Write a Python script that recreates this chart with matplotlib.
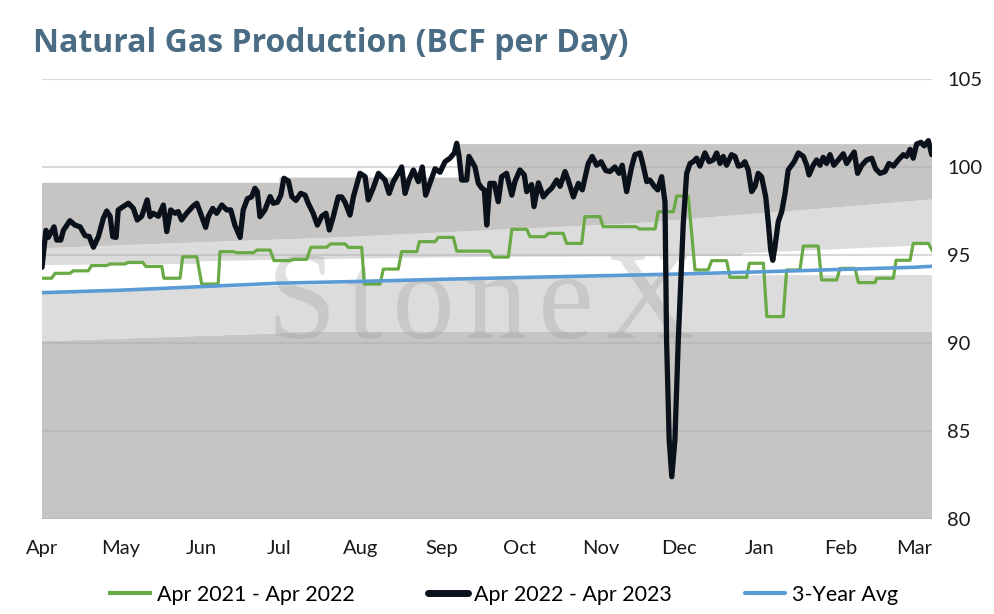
import numpy as np
import matplotlib.pyplot as plt
from matplotlib.lines import Line2D

# -----------------------------
# Data, x = days since Apr 1
# -----------------------------
month_days = [0, 30, 61, 91, 122, 153, 183, 214, 244, 275, 306, 334]
month_labels = ["Apr", "May", "Jun", "Jul", "Aug", "Sep", "Oct", "Nov", "Dec", "Jan", "Feb", "Mar"]

black_days = [
    0, 1.5, 2.4, 4.6, 5.6, 7.2, 8.2, 10.7, 12.6, 14.6,
    16.5, 18.1, 19.7, 21.6, 23.5, 24.8, 26.1, 27.1, 28.4, 29.2,
    31.1, 33.1, 35.0, 36.5, 38.2, 40.3, 41.4, 42.6, 44.6, 46.5,
    47.8, 49.3, 51.0, 52.2, 53.5, 55.4, 57.7, 59.3, 60.5, 62.7,
    63.7, 65.4, 66.9, 68.9, 70.8, 72.3, 73.9, 75.9, 77.1, 78.7,
    80.3, 81.6, 82.5, 83.5, 85.4, 87.4, 88.6, 90.2, 91.5, 92.7,
    94.4, 95.7, 97.3, 99.1, 100.8, 102.0, 103.9, 105.5, 107.2, 108.8,
    110.1, 111.6, 113.5, 114.8, 116.1, 118.0, 119.3, 121.8, 123.8, 125.0,
    126.9, 128.9, 131.4, 133.0, 134.6, 136.5, 137.8, 139.1, 140.6, 142.3,
    144.2, 145.7, 147.0, 148.7, 150.6, 152.5, 154.4, 156.3, 158.0, 158.9,
    159.8, 160.8, 162.7, 163.6, 165.9, 167.2, 168.5, 169.5, 170.4, 171.6,
    173.3, 174.8, 176.1, 178.0, 180.0, 181.2, 183.1, 184.8, 185.7, 187.6,
    188.5, 190.2, 192.1, 193.8, 195.3, 197.2, 198.5, 200.4, 201.6, 203.6,
    205.5, 207.0, 209.3, 210.8, 212.5, 214.2, 216.0, 217.6, 219.5, 221.1,
    222.3, 224.0, 225.9, 227.2, 229.1, 230.4, 231.7, 232.9, 234.6, 235.9,
    237.4, 238.7, 239.3, 240.3, 241.3, 242.5, 243.8, 245.7, 247.0, 248.3,
    249.5, 250.8, 252.1, 254.0, 255.6, 257.2, 258.5, 259.8, 261.0, 262.3,
    264.2, 265.5, 266.8, 268.1, 269.3, 270.6, 271.9, 273.2, 274.4, 275.7,
    277.3, 278.3, 279.2, 280.0, 280.8, 282.1, 283.4, 284.7, 285.9, 287.2,
    288.2, 289.8, 291.7, 293.0, 293.9, 295.5, 296.8, 298.1, 299.3, 300.6,
    301.9, 303.4, 305.1, 307.0, 308.3, 309.6, 311.2, 312.5, 314.1, 316.0,
    317.9, 319.4, 321.1, 323.0, 324.5, 326.2, 328.1, 330.0, 331.3, 332.6,
    333.8, 335.1, 336.8, 338.0, 339.6, 340.9,
]
black_vals = [
    94.3, 96.4, 96.0, 96.6, 95.85, 95.85, 96.4, 96.95, 96.7, 96.6,
    96.1, 96.05, 95.44, 96.04, 97.08, 97.5, 97.2, 96.04, 96.0, 97.56,
    97.75, 97.94, 97.65, 96.99, 97.2, 98.13, 97.18, 97.37, 97.2, 97.84,
    96.33, 97.56, 97.37, 97.47, 96.99, 97.37, 97.75, 97.94, 97.47, 96.57,
    97.18, 97.65, 97.37, 97.84, 97.56, 97.56, 96.7, 96.0, 97.56, 98.2,
    98.3, 98.79, 98.6, 97.18, 97.56, 98.32, 97.94, 98.0, 98.4, 99.36,
    99.2, 98.32, 98.1, 98.5, 98.4, 97.94, 97.37, 96.7, 97.2, 97.37,
    96.42, 97.18, 98.3, 98.3, 98.0, 97.27, 98.3, 99.64, 99.45, 98.13,
    98.8, 99.64, 99.26, 98.5, 99.17, 99.64, 100.0, 98.5, 99.26, 99.83,
    99.17, 100.0, 98.4, 99.1, 99.9, 99.7, 100.3, 100.5, 100.8, 101.35,
    100.6, 99.26, 99.26, 100.6, 100.0, 99.07, 98.8, 98.7, 96.7, 99.07,
    99.07, 98.03, 99.45, 99.64, 98.4, 99.17, 99.83, 99.55, 98.6, 99.0,
    97.75, 99.1, 98.3, 98.6, 98.8, 99.26, 98.9, 99.74, 99.26, 98.3,
    99.07, 98.7, 100.2, 100.6, 100.1, 100.3, 99.8, 99.74, 100.0, 99.64,
    100.1, 98.6, 100.0, 100.7, 100.8, 100.05, 99.17, 99.26, 98.9, 98.7,
    99.45, 98.0, 90.17, 84.5, 82.4, 84.5, 90.2, 96.8, 99.64, 100.2,
    100.3, 100.5, 100.05, 100.8, 100.3, 100.4, 100.8, 100.2, 100.6, 100.1,
    100.7, 100.6, 100.05, 100.1, 100.3, 99.83, 98.6, 98.9, 99.64, 99.45,
    98.3, 96.8, 95.28, 94.7, 95.45, 96.9, 97.45, 98.5, 99.83, 100.1,
    100.3, 100.8, 100.6, 100.1, 99.55, 100.1, 100.4, 100.1, 100.55, 100.2,
    100.7, 100.1, 100.4, 100.75, 100.2, 100.5, 100.85, 99.64, 100.1, 100.4,
    100.5, 99.9, 99.64, 99.74, 100.2, 100.05, 100.4, 100.7, 100.6, 101.0,
    100.5, 101.3, 101.4, 101.2, 101.5, 100.7,
]

# weekly steps of the prior year: start day, end day, value
green_start = [0, 5, 12, 19, 26, 33, 39.8, 46.7, 53.9, 61.2, 68.2, 74.6, 82.3, 88.9, 96.3, 103,
               110.6, 117.4, 123.5, 130.8, 137.8, 144.6, 151.8, 158.9, 172.9, 180, 187, 194, 201,
               208, 215, 229, 236.1, 243.2, 250.2, 256.6, 263.6, 271, 277.7, 285.3, 291.7, 298.7,
               305.7, 312.8, 319.8, 327.2, 333.8, 341]
green_end = [3.7, 10.7, 17.7, 24.8, 31.8, 38.6, 45.9, 52.9, 59.3, 67.5, 73.3, 81, 87.4, 95, 101.4, 109,
             116.1, 122.5, 129.5, 136.5, 143.6, 150.6, 157.6, 171.6, 178.7, 185.7, 192.7, 199.7, 206.8,
             213.8, 227.5, 234.9, 241.9, 247.6, 255.2, 262.3, 270, 276.4, 284, 290.4, 297.4, 304.5,
             311.5, 319.2, 326.2, 332.6, 339.6, 341]
green_vals = [93.68, 93.96, 94.1, 94.4, 94.49, 94.58, 94.35, 93.68, 94.9, 93.35, 95.19, 95.13, 95.28,
              94.68, 94.75, 95.44, 95.63, 95.43, 93.35, 94.2, 95.19, 95.76, 96.0, 95.22, 94.88, 96.46,
              96.04, 96.23, 95.66, 97.18, 96.61, 96.48, 97.46, 98.35, 94.15, 94.68, 93.73, 94.53, 91.5,
              94.15, 95.51, 93.58, 94.24, 93.43, 93.68, 94.7, 95.66, 95.28]

blue_days = [0, 30, 61, 91, 122, 153, 183, 214, 244, 275, 306, 334, 341]
blue_vals = [92.86, 93.0, 93.2, 93.4, 93.5, 93.62, 93.72, 93.82, 93.92, 94.04, 94.18, 94.3, 94.36]

# shaded range bands (boundaries from bottom to top)
low_dark_days = [0, 30, 61, 91, 100, 341]
low_dark_top = [90.1, 90.25, 90.4, 90.55, 90.66, 90.66]
low_light_days = [0, 61, 122, 175, 200, 341]
low_light_top = [92.8, 93.1, 93.4, 93.75, 93.85, 93.86]
white_days = [0, 60, 61, 120, 175, 268, 269, 341]
white_top = [94.43, 94.5, 94.65, 94.8, 94.9, 94.95, 95.1, 95.57]
up_light_days = [0, 57, 114, 170, 227, 252, 300, 341]
up_light_top = [95.38, 95.7, 96.0, 96.4, 96.8, 97.1, 97.65, 98.16]
up_dark_days = [0, 91, 91, 160, 160, 341]
up_dark_top = [99.1, 99.1, 99.4, 99.4, 101.3, 101.3]

Y_MIN, Y_MAX = 80, 105
X_END = 341

DARK_GRAY = "#c6c5c4"
LIGHT_GRAY = "#dcdcdc"
GREEN = "#6aaa45"
BLACK = "#0a111b"
BLUE = "#5b9bd5"
TITLE_COLOR = "#4a6c84"

plt.rcParams["font.family"] = ["Lato", "DejaVu Sans"]

fig = plt.figure(figsize=(9.94, 6.14), dpi=100)
ax = fig.add_axes([42 / 994, 1 - 519 / 614, 890 / 994, 440 / 614])


def band(lo_days, lo_vals, hi_days, hi_vals, color):
    xs = list(hi_days) + list(lo_days)[::-1]
    ys = list(hi_vals) + list(lo_vals)[::-1]
    ax.fill(xs, ys, color=color, linewidth=0, zorder=0.5)


band([0, X_END], [Y_MIN, Y_MIN], low_dark_days, low_dark_top, DARK_GRAY)
band(low_dark_days, low_dark_top, low_light_days, low_light_top, LIGHT_GRAY)
band(white_days, white_top, up_light_days, up_light_top, LIGHT_GRAY)
band(up_light_days, up_light_top, up_dark_days, up_dark_top, DARK_GRAY)

# watermark, letters slightly spread with hair spaces
ax.text(168, 90.3, "\u200a".join("StoneX"), family=["Liberation Serif", "DejaVu Serif"],
        fontsize=90, color="#9a9a9a", alpha=0.3, ha="center", va="baseline", zorder=1)

# gridlines over the bands
for v in range(Y_MIN, Y_MAX + 1, 5):
    ax.axhline(v, color="#acacac", alpha=0.46, linewidth=1.5, zorder=1.5)

# series
gx = np.column_stack([green_start, green_end]).ravel()
gy = np.repeat(green_vals, 2)
ax.plot(gx, gy, color=GREEN, linewidth=2.3, zorder=3, solid_joinstyle="round")
ax.plot(blue_days, blue_vals, color=BLUE, linewidth=2.6, zorder=4)
ax.plot(black_days, black_vals, color=BLACK, linewidth=3.8, zorder=5,
        solid_joinstyle="round", solid_capstyle="round")

ax.set_xlim(0, X_END)
ax.set_ylim(Y_MIN, Y_MAX)
ax.set_xticks(month_days)
ax.set_xticklabels(month_labels)
ax.set_yticks(range(Y_MIN, Y_MAX + 1, 5))
ax.yaxis.tick_right()
ax.tick_params(axis="both", length=0, labelsize=14.5, colors="#1a1a1a")
ax.tick_params(axis="x", pad=15)
ax.tick_params(axis="y", pad=11)
for s in ax.spines.values():
    s.set_visible(False)

fig.text(33 / 994, 1 - 52 / 614, "Natural Gas Production (BCF per Day)", family="Open Sans",
         fontsize=23, fontweight="bold", color=TITLE_COLOR, ha="left", va="baseline")

handles = [
    Line2D([], [], color=GREEN, linewidth=3),
    Line2D([], [], color=BLACK, linewidth=5, solid_capstyle="round"),
    Line2D([], [], color=BLUE, linewidth=3, solid_capstyle="round"),
]
labels = ["Apr 2021 - Apr 2022", "Apr 2022 - Apr 2023", "3-Year Avg"]
fig.legend(handles, labels, loc="center", bbox_to_anchor=(504 / 994, 1 - 595 / 614), ncol=3,
           frameon=False, fontsize=15.5, handlelength=1.86, handletextpad=0.3, columnspacing=3.4)

fig.savefig("out.png", dpi=100)
